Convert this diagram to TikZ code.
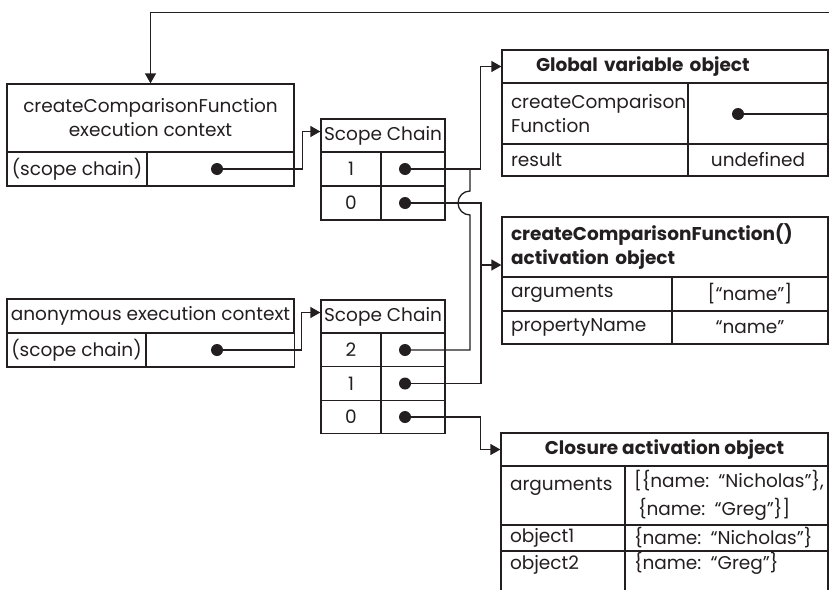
\documentclass[tikz,border=0pt]{standalone}
\usepackage{fontspec}
\setmainfont{Poppins}
\usepackage{xcolor}
\usepackage{tikz}
\usetikzlibrary{arrows.meta}
\definecolor{ink}{HTML}{231F20}

\begin{document}
\hyphenpenalty=10000
\begin{tikzpicture}[x=1pt, y=-1pt, >={Triangle[length=10pt,width=11pt]},
  cell/.style={draw=ink, line width=1.3pt, inner sep=0pt, text=ink, font=\fontsize{18.5}{24}\selectfont},
  head/.style={cell, font=\fontsize{18.5}{24}\selectfont\bfseries},
  dot/.style={circle, fill=ink, inner sep=0pt, minimum size=12pt},
  wire/.style={draw=ink, line width=1.3pt}]
  \useasboundingbox (0,0) rectangle (829,589);

  % Execution contexts
  \node[cell, minimum width=287pt, minimum height=68pt, align=center] (ec1h) at (150.5,118) {createComparisonFunction\\execution context};
  \node[cell, minimum width=140pt, minimum height=34pt] (ec1k) at (77,169) {(scope chain)};
  \node[cell, minimum width=147pt, minimum height=34pt] (ec1v) at (220.5,169) {};
  \node[dot] (ec1d) at (217,169) {};

  \node[cell, minimum width=287pt, minimum height=34pt] (ec2h) at (150.5,316) {anonymous execution context};
  \node[cell, minimum width=139pt, minimum height=34pt] (ec2k) at (76.5,350) {(scope chain)};
  \node[cell, minimum width=148pt, minimum height=34pt] (ec2v) at (220.5,350) {};
  \node[dot] (ec2d) at (217,350) {};

  % Scope chains
  \node[cell, minimum width=124pt, minimum height=33pt] (sc1h) at (383,135.5) {Scope Chain};
  \node[cell, minimum width=60pt, minimum height=34pt] (sc1k1) at (351,169) {1};
  \node[cell, minimum width=64pt, minimum height=34pt] (sc1v1) at (413,169) {};
  \node[cell, minimum width=60pt, minimum height=34pt] (sc1k0) at (351,203) {0};
  \node[cell, minimum width=64pt, minimum height=34pt] (sc1v0) at (413,203) {};
  \node[dot] (sc1d1) at (405,169) {};
  \node[dot] (sc1d0) at (405,203) {};

  \node[cell, minimum width=124pt, minimum height=33pt] (sc2h) at (383,316.5) {Scope Chain};
  \node[cell, minimum width=60pt, minimum height=33.5pt] (sc2k2) at (351,350) {2};
  \node[cell, minimum width=64pt, minimum height=33.5pt] (sc2v2) at (413,350) {};
  \node[cell, minimum width=60pt, minimum height=33.5pt] (sc2k1) at (351,383.5) {1};
  \node[cell, minimum width=64pt, minimum height=33.5pt] (sc2v1) at (413,383.5) {};
  \node[cell, minimum width=60pt, minimum height=33.5pt] (sc2k0) at (351,417) {0};
  \node[cell, minimum width=64pt, minimum height=33.5pt] (sc2v0) at (413,417) {};
  \node[dot] (sc2d2) at (405,350) {};
  \node[dot] (sc2d1) at (405,383.5) {};
  \node[dot] (sc2d0) at (405,417) {};

  % Global variable object
  \node[head, text width=258pt, inner xsep=34pt, minimum height=33pt, align=left] (gvh) at (665,66.5) {Global variable object};
  \node[cell, text width=168pt, inner xsep=9pt, minimum height=61pt, align=left] (gvk1) at (595,113.5) {createComparison\\Function};
  \node[cell, minimum width=140pt, minimum height=61pt] (gvv1) at (758,113.5) {};
  \node[cell, text width=168pt, inner xsep=9pt, minimum height=32pt, align=left] (gvk2) at (595,160) {result};
  \node[cell, minimum width=140pt, minimum height=32pt] (gvv2) at (758,160) {undefined};
  \node[dot] (gvd) at (738,114) {};

  % Activation object
  \node[head, text width=308pt, inner xsep=9pt, minimum height=60pt, align=left] (avh) at (665,247) {createComparisonFunction()\\activation object};
  \node[cell, text width=152pt, inner xsep=9pt, minimum height=34pt, align=left] (avk1) at (587,294) {arguments};
  \node[cell, minimum width=156pt, minimum height=34pt] (avv1) at (750,294) {[“name”]};
  \node[cell, text width=152pt, inner xsep=9pt, minimum height=33pt, align=left] (avk2) at (587,327.5) {propertyName};
  \node[cell, minimum width=156pt, minimum height=33pt] (avv2) at (750,327.5) {“name”};

  % Closure activation object
  \node[head, minimum width=327pt, minimum height=33pt] (clh) at (664.5,449.5) {Closure activation object};
  \node[cell, text width=106pt, inner xsep=9pt, text height=24pt, text depth=35pt, align=left] (clk1) at (563,495.5) {arguments};
  \node[cell, text width=185pt, inner xsep=9pt, minimum height=59pt, align=left, font=\fontsize{18.5}{28}\selectfont] (clv1) at (726.5,495.5) {\mbox{[\{name: “Nicholas”\},}\\\mbox{\hspace*{4pt}\{name: “Greg”\}]}};
  \node[cell, text width=106pt, inner xsep=9pt, minimum height=26pt, align=left] (clk2) at (563,538) {object1};
  \node[cell, text width=185pt, inner xsep=9pt, minimum height=26pt, align=left] (clv2) at (726.5,538) {\mbox{\{name: “Nicholas”\}}};
  \node[cell, text width=106pt, inner xsep=9pt, text height=18pt, text depth=31pt, align=left] (clk3) at (563,575.5) {object2};
  \node[cell, text width=185pt, inner xsep=9pt, text height=18pt, text depth=31pt, align=left] (clv3) at (726.5,575.5) {\mbox{\{name: “Greg”\}}};

  % Connectors
  \draw[wire, ->] (ec1d) -| ([xshift=-18pt, yshift=4pt]sc1h.west) -- ([yshift=4pt]sc1h.west);
  \draw[wire, ->] (ec2d) -| ([xshift=-19pt, yshift=4pt]sc2h.west) -- ([yshift=4pt]sc2h.west);
  \draw[wire, ->] (sc1d1) -| ([xshift=-21pt]gvh.west) -- (gvh.west);
  \coordinate (hop) at (470,203);
  \draw[wire] (sc2d2) -| ([yshift=-12pt]hop) arc[start angle=270, end angle=90, radius=12pt] |- (sc1d1);
  \draw[wire] (sc2d1) -- ++(76,0) |- (sc1d0);
  \coordinate (tap) at (481,265);
  \draw[wire, ->] (tap) -- (tap -| avh.west);
  \draw[wire, ->] (sc2d0) -| ([xshift=-20pt]clh.west) -- (clh.west);
  \draw[wire, ->] (gvd) -- ++(92,0) |- ([yshift=71pt]ec1h.north) -- (ec1h.north);
\end{tikzpicture}
\end{document}
